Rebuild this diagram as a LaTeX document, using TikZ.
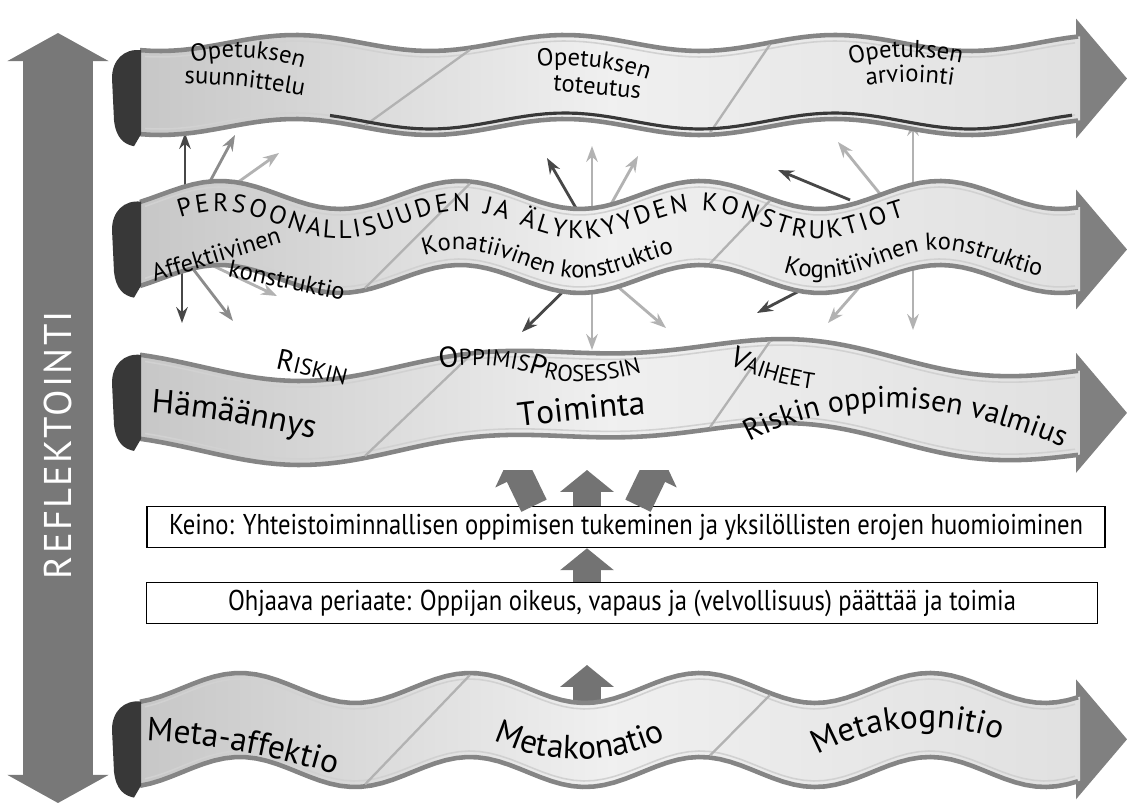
\documentclass[tikz,border=0pt]{standalone}
\usepackage{fontspec}
\setmainfont{PT Sans}
\newfontfamily\boxfont{PT Sans}[FakeStretch=0.86]
\newfontfamily\spacedfont{PT Sans}[LetterSpace=6]
\usetikzlibrary{arrows.meta, decorations.text, calc}

\begin{document}
\begin{tikzpicture}[
    x=0.02cm, y=-0.02cm,
    % wave of each band (centre line)
    declare function={
        bandA(\x)=85+8*cos((\x-430)*1.3333);
        bandB(\x)=237+14*cos((\x-340)*1.5);
        bandC(\x)=400+15*cos((\x-300)*0.45)+8*cos((\x-300)*1.0588);
        bandD(\x)=730+15*cos((\x-585)*1.5652);
    },
    % Style definitions
    bandbody/.style={left color=black!22, right color=black!12, middle color=black!6},
    bandedge/.style={draw=black!48, line width=2.6pt},
    bandinner/.style={draw=black!18, line width=0.9pt},
    bandend/.style={fill=black!78},
    bandhead/.style={fill=black!50},
    divider/.style={draw=black!30, line width=1.3pt},
    ray/.style={-{Stealth[length=9pt, width=6.5pt]}, line width=1.6pt},
    raydark/.style={ray, black!72},
    raymid/.style={ray, black!45},
    raylight/.style={ray, black!30},
    fatarrow/.style={-{Triangle[width=30pt, length=12.5pt]}, line width=16pt, black!55},
    reflarrow/.style={{Triangle[width=57pt, length=16pt]}-{Triangle[width=57pt, length=16pt]},
        line width=40pt, black!53},
    bandtext/.style={decorate, decoration={text along path, text align=center, text={#1}}},
    fittext/.style={decorate, decoration={text along path, text align=fit to path, text={#1}}},
    infobox/.style={draw=black, line width=0.9pt, fill=white, minimum height=0.82cm,
        inner sep=0pt, font=\boxfont\fontsize{16.3}{17}\selectfont},
    labB/.style={font=\fontsize{14}{14}\selectfont, inner sep=0pt},
]

% font sizes for the texts along the bands
\def\capfont{\fontsize{14.5}{14.5}\selectfont}
\def\capbig{\fontsize{16.5}{16.5}\selectfont}
\def\capsmall{\fontsize{13}{13}\selectfont}
\def\smallfont{\fontsize{14}{14}\selectfont}
\def\midfont{\fontsize{14}{14}\selectfont}
\def\bigfont{\fontsize{19}{19}\selectfont}
\def\longfont{\fontsize{17}{17}\selectfont}

\fill[white] (0,0) rectangle (1127,807);
\useasboundingbox (0,0) rectangle (1127,807);

% === Rays out of the middle band (tails hidden under it) ===
\draw[raydark]  (185,205) -- (185,133);
\draw[raymid]   (200,200) -- (235,135);
\draw[raylight] (220,195) -- (279,153);
\draw[raydark]  (182,265) -- (182,323);
\draw[raymid]   (190,265) -- (233,321);
\draw[raylight] (205,262) -- (277,296);

\draw[raydark]  (580,215) -- (547,158);
\draw[raylight] (592,215) -- (592,146);
\draw[raylight] (605,215) -- (638,156);
\draw[raydark]  (575,280) -- (522,332);
\draw[raylight] (592,280) -- (592,350);
\draw[raylight] (610,280) -- (666,328);

\draw[raydark]  (850,200) -- (778,170);
\draw[raylight] (885,200) -- (838,142);
\draw[raylight] (913,200) -- (913,120);
\draw[raydark]  (830,275) -- (757,313);
\draw[raylight] (870,275) -- (828,323);
\draw[raylight] (913,270) -- (913,330);

% === Arrow out of the meta band ===
\coordinate (metaBase) at (587,715);
\coordinate (metaTip) at (587,665);
\draw[fatarrow] (metaBase) -- (metaTip);

% === The four bands ===
\foreach \f in {bandA, bandB, bandC, bandD} {
    \pgfmathsetmacro\bandtop{\f(141)-42}
    \pgfmathsetmacro\bandbot{\f(141)+42}
    \pgfmathsetmacro\bandmid{\f(1078)}
    % arrow head
    \fill[bandhead] (1076,\bandmid-60) -- (1127,\bandmid) -- (1076,\bandmid+60) -- cycle;
    % body
    \path[bandbody] plot[domain=140:1080, samples=90] (\x, {\f(\x)-42})
        -- plot[domain=1080:140, samples=90] (\x, {\f(\x)+42}) -- cycle;
    \draw[bandedge] plot[domain=140:1078, samples=90] (\x, {\f(\x)-42});
    \draw[bandedge] plot[domain=140:1078, samples=90] (\x, {\f(\x)+42});
    \draw[bandinner] plot[domain=145:1075, samples=90] (\x, {\f(\x)-36});
    \draw[bandinner] plot[domain=145:1075, samples=90] (\x, {\f(\x)+36});
    % dividers
    \draw[divider] (470, {\f(470)-40}) -- (365, {\f(365)+40});
    \draw[divider] (770, {\f(770)-40}) -- (710, {\f(710)+40});
    % curled left end
    \fill[bandend] (141,\bandtop) .. controls (124,\bandtop-2) and (112,\bandtop+10) .. (112,\bandtop+28)
        -- (114,\bandbot-14) .. controls (116,\bandbot+4) and (124,\bandbot+10) .. (134,\bandbot+12)
        -- (141,\bandbot) -- cycle;
}
\draw[black!78, line width=1.8pt] plot[domain=330:1072, samples=70] (\x, {bandA(\x)+36});

% === Top band: teaching ===
\path[bandtext={|\smallfont|Opetuksen}] (180,66) .. controls (220,52) and (270,56) .. (315,72);
\path[bandtext={|\smallfont|suunnittelu}] (178,83) .. controls (225,84) and (265,88) .. (310,97);
\path[bandtext={|\smallfont|Opetuksen}] (530,68) .. controls (570,62) and (620,68) .. (655,82);
\path[bandtext={|\smallfont|toteutus}] (545,90) .. controls (580,93) and (610,95) .. (648,100);
\path[bandtext={|\smallfont|Opetuksen}] (840,68) .. controls (880,54) and (930,54) .. (972,66);
\path[bandtext={|\smallfont|arviointi}] (853,88) .. controls (890,80) and (930,80) .. (967,88);

% === Middle band: constructs ===
\path[fittext={|\capfont|PERSOONALLISUUDEN JA ÄLYKKYYDEN KONSTRUKTIOT}]
    plot[domain=180:905, samples=80] (\x, {bandB(\x)-12});
\node[labB, rotate=17] (affective) at (216,254) {Affektiivinen};
\node[labB, rotate=-12] (affective2) at (287,280) {konstruktio};
\path[bandtext={|\midfont|Konatiivinen konstruktio}]
    plot[domain=395:705, samples=60] (\x, {bandB(\x)+27});
\path[bandtext={|\midfont|Kognitiivinen konstruktio}]
    plot[domain=760:1065, samples=60] (\x, {bandB(\x)+27});

% === Risk band: phases ===
\path[bandtext={|\capbig|R|\capsmall|ISKIN}] (240,362) .. controls (290,370) and (335,384) .. (380,394);
\path[bandtext={|\capbig|O|\capsmall|PPIMIS|\capbig|P|\capsmall|ROSESSIN}]
    (390,382) .. controls (430,368) and (480,356) .. (540,376) .. controls (580,390) and (640,378) .. (690,354);
\path[bandtext={|\capbig|V|\capsmall|AIHEET}] (700,340) .. controls (725,366) and (760,386) .. (850,393);
\path[bandtext={|\bigfont|Hämäännys}] (130,412) .. controls (200,414) and (270,428) .. (335,444);
\path[bandtext={|\bigfont|Toiminta}] (490,430) .. controls (550,422) and (610,416) .. (675,412);
\path[bandtext={|\longfont|Riskin oppimisen valmius}]
    (735,450) .. controls (830,394) and (940,392) .. (1078,454);

% === Meta band ===
\path[bandtext={|\bigfont|Meta-affektio}] (110,740) .. controls (220,740) and (290,760) .. (370,785);
\path[bandtext={|\bigfont|Metakonatio}] (470,728) .. controls (540,770) and (620,770) .. (690,726);
\path[bandtext={|\bigfont|Metakognitio}] (795,770) .. controls (860,720) and (960,715) .. (1025,752);

% === Boxes ===
\node[infobox, minimum width=19.16cm] (means) at (626,527)
    {Keino: Yhteistoiminnallisen oppimisen tukeminen ja yksilöllisten erojen huomioiminen};
\node[infobox, minimum width=19.02cm] (principle) at (622,603)
    {Ohjaava periaate: Oppijan oikeus, vapaus ja (velvollisuus) päättää ja toimia};

\coordinate (stem) at (587,0);
\draw[fatarrow] (principle.north -| stem) -- (means.south -| stem);

\coordinate (footL) at (534,0);
\coordinate (footR) at (638,0);
\coordinate (tipL) at (510,456);
\coordinate (tipM) at (587,470);
\coordinate (tipR) at (662,456);
\draw[fatarrow] (means.north -| stem) -- (tipM);
\begin{scope}
    \clip (400,471) rectangle (760,520);
    \draw[fatarrow] (means.north -| footL) -- (tipL);
    \draw[fatarrow] (means.north -| footR) -- (tipR);
\end{scope}

% === Reflection arrow ===
\coordinate (reflTop) at (58,33);
\coordinate (reflBot) at (58,803);
\draw[reflarrow] (reflBot) -- (reflTop);
\node[rotate=90, text=white, font=\spacedfont\fontsize{22}{22}\selectfont] (reflect) at (58,445) {REFLEKTOINTI};

\end{tikzpicture}
\end{document}
